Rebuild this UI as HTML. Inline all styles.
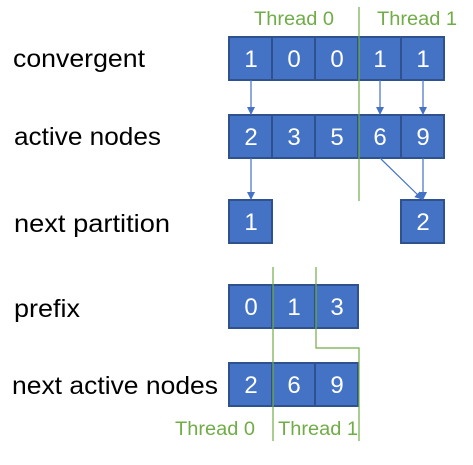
<!DOCTYPE html><html><head><style>body{margin:0;background:#fff}</style></head><body>
<svg width="473" height="460" xmlns="http://www.w3.org/2000/svg" font-family="Liberation Sans, sans-serif">
<defs><marker id="a" markerWidth="8" markerHeight="8" refX="7" refY="4" orient="auto" markerUnits="userSpaceOnUse"><path d="M0,0L8,4L0,8z" fill="#4472c4"/></marker></defs>
<g fill="#4472c4" stroke="#2f528f" stroke-width="2">
<rect x="229" y="37" width="43" height="43"/><rect x="272" y="37" width="43" height="43"/><rect x="315" y="37" width="43" height="43"/><rect x="358" y="37" width="43" height="43"/><rect x="401" y="37" width="43" height="43"/>
<rect x="229" y="115" width="43" height="43"/><rect x="272" y="115" width="43" height="43"/><rect x="315" y="115" width="43" height="43"/><rect x="358" y="115" width="43" height="43"/><rect x="401" y="115" width="43" height="43"/>
<rect x="229" y="200" width="43" height="43"/><rect x="401" y="200" width="43" height="43"/>
<rect x="229" y="285" width="43" height="43"/><rect x="272" y="285" width="43" height="43"/><rect x="315" y="285" width="43" height="43"/>
<rect x="229" y="363" width="43" height="43"/><rect x="272" y="363" width="43" height="43"/><rect x="315" y="363" width="43" height="43"/>
</g>
<g fill="#fff" font-size="24" text-anchor="middle">
<text x="251" y="67">1</text><text x="294" y="67">0</text><text x="337" y="67">0</text><text x="380" y="67">1</text><text x="423" y="67">1</text>
<text x="251" y="145">2</text><text x="294" y="145">3</text><text x="337" y="145">5</text><text x="380" y="145">6</text><text x="423" y="145">9</text>
<text x="251" y="230">1</text><text x="423" y="230">2</text>
<text x="251" y="315">0</text><text x="294" y="315">1</text><text x="337" y="315">3</text>
<text x="251" y="393">2</text><text x="294" y="393">6</text><text x="337" y="393">9</text>
</g>
<g stroke="#4472c4" stroke-width="1.2" marker-end="url(#a)">
<line x1="251" y1="80" x2="251" y2="114"/><line x1="380" y1="80" x2="380" y2="114"/><line x1="423" y1="80" x2="423" y2="114"/>
<line x1="251" y1="158" x2="251" y2="199"/><line x1="423" y1="158" x2="423" y2="199"/><line x1="380" y1="158" x2="422" y2="199"/>
</g>
<g stroke="#70ad47" stroke-width="1.2" fill="none">
<line x1="359" y1="7" x2="359" y2="201"/>
<line x1="273" y1="267" x2="273" y2="441"/>
<polyline points="316,267 316,348 359,348 359,441"/>
</g>
<g fill="#70ad47" font-size="19">
<text x="254" y="25" textLength="80" lengthAdjust="spacingAndGlyphs">Thread 0</text><text x="377" y="25" textLength="80" lengthAdjust="spacingAndGlyphs">Thread 1</text>
<text x="175" y="435" textLength="80" lengthAdjust="spacingAndGlyphs">Thread 0</text><text x="278" y="435" textLength="80" lengthAdjust="spacingAndGlyphs">Thread 1</text>
</g>
<g fill="#000" font-size="25">
<text x="13" y="67" textLength="132" lengthAdjust="spacingAndGlyphs">convergent</text>
<text x="14" y="145" textLength="147" lengthAdjust="spacingAndGlyphs">active nodes</text>
<text x="14" y="232" textLength="156" lengthAdjust="spacingAndGlyphs">next partition</text>
<text x="14" y="317" textLength="66" lengthAdjust="spacingAndGlyphs">prefix</text>
<text x="12" y="394" textLength="206" lengthAdjust="spacingAndGlyphs">next active nodes</text>
</g>
</svg></body></html>
